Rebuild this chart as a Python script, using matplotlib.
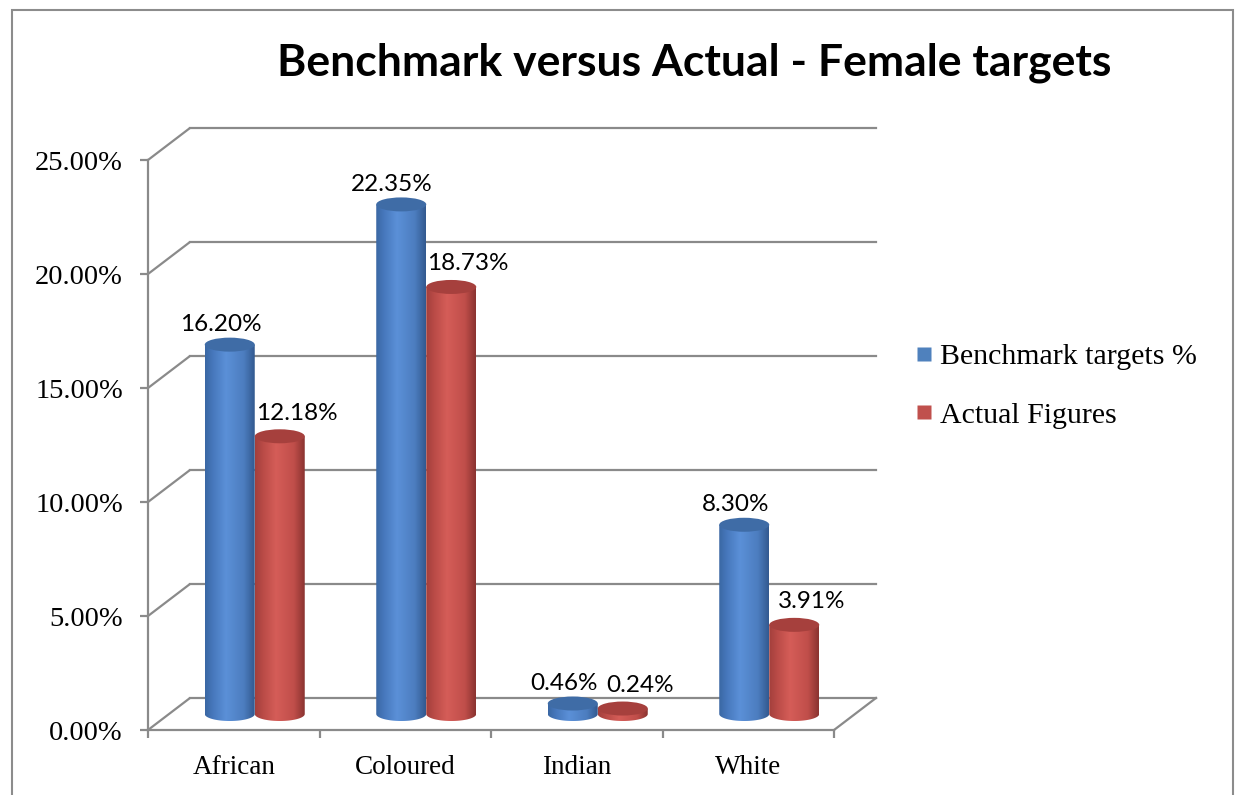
import numpy as np
import matplotlib
matplotlib.use("Agg")
import matplotlib.pyplot as plt
from matplotlib.patches import Ellipse, Rectangle, PathPatch
from matplotlib.path import Path
from matplotlib.colors import LinearSegmentedColormap
from matplotlib.lines import Line2D

# ---- data ----
categories = ["African", "Coloured", "Indian", "White"]
benchmark = [16.20, 22.35, 0.46, 8.30]
actual = [12.18, 18.73, 0.24, 3.91]
series_names = ["Benchmark targets %", "Actual Figures"]
y_ticks = [0, 5, 10, 15, 20, 25]
y_tick_labels = ["0.00%", "5.00%", "10.00%", "15.00%", "20.00%", "25.00%"]

# ---- figure / pseudo-3D geometry ----
W, H = 1235, 795
fig = plt.figure(figsize=(W / 100, H / 100), dpi=100)

cat_px = 171.5          # width of one category slot in pixels
pct_px = 22.8           # pixels per percent
depth_dx_px, depth_dy_px = 42, 32
DX = depth_dx_px / cat_px
DY = depth_dy_px / pct_px
YMAX = 25

ax_left, ax_bottom = 148, 730
ax_w = cat_px * len(categories) + depth_dx_px
ax_h = pct_px * YMAX + depth_dy_px
ax = fig.add_axes([ax_left / W, (H - ax_bottom) / H, ax_w / W, ax_h / H])

grid_col = "#8a8a8a"
serif = "Liberation Serif"
sans = "Lato"

# side wall diagonals + back wall gridlines
for v in y_ticks:
    ax.plot([-0.5, -0.5 + DX], [v, v + DY], color=grid_col, lw=1.6,
            solid_capstyle="butt", zorder=1, clip_on=False)
    ax.plot([-0.5 + DX, len(categories) - 0.5 + DX], [v + DY, v + DY],
            color=grid_col, lw=1.6, zorder=1, clip_on=False)
# floor right edge
ax.plot([len(categories) - 0.5, len(categories) - 0.5 + DX], [0, DY],
        color=grid_col, lw=1.6, zorder=1, clip_on=False)

# ---- cylinders ----
bar_w = 50 / cat_px
ell_h = 14 / pct_px
base = DY / 2

cmaps = [
    LinearSegmentedColormap.from_list(
        "blue_cyl", [(0, "#3a67a3"), (0.15, "#4677bb"), (0.42, "#5b90d8"),
                     (0.78, "#4c7dbf"), (1, "#32598f")]),
    LinearSegmentedColormap.from_list(
        "red_cyl", [(0, "#a23f3c"), (0.15, "#b84a46"), (0.42, "#d55d58"),
                    (0.78, "#c04e4a"), (1, "#8a3330")]),
]
top_cols = ["#3f6ca6", "#a6403d"]
grad = np.linspace(0, 1, 256).reshape(1, -1)


def cylinder(xc, value, k):
    x0, x1 = xc - bar_w / 2, xc + bar_w / 2
    top = base + value
    t = np.linspace(np.pi, 2 * np.pi, 60)
    arc = np.column_stack([xc + bar_w / 2 * np.cos(t), base + ell_h / 2 * np.sin(t)])
    verts = np.vstack([[x0, top], arc, [x1, top], [x0, top]])
    codes = [Path.MOVETO] + [Path.LINETO] * (len(verts) - 2) + [Path.CLOSEPOLY]
    body = PathPatch(Path(verts, codes), facecolor="none", edgecolor="none",
                     transform=ax.transData)
    ax.add_patch(body)
    im = ax.imshow(grad, cmap=cmaps[k], extent=[x0, x1, base - ell_h / 2, top],
                   aspect="auto", zorder=3, interpolation="bilinear")
    im.set_clip_path(body)
    ax.add_patch(Ellipse((xc, top), bar_w, ell_h, facecolor=top_cols[k],
                         edgecolor="none", zorder=3.5))


label_offsets = [(-9, 20), (17, 23)]
for i in range(len(categories)):
    for k, vals in enumerate([benchmark, actual]):
        xc = i + (k - 0.5) * bar_w + DX / 2
        cylinder(xc, vals[i], k)
        ax.annotate(f"{vals[i]:.2f}%", xy=(xc, base + vals[i]),
                    xytext=label_offsets[k], textcoords="offset pixels",
                    ha="center", va="center", fontsize=17.5, family=sans,
                    color="black", zorder=5, annotation_clip=False)

ax.set_xlim(-0.5, len(categories) - 0.5 + DX)
ax.set_ylim(0, YMAX + DY)

# ---- axes ----
for s in ["top", "right"]:
    ax.spines[s].set_visible(False)
for s in ["left", "bottom"]:
    ax.spines[s].set_color(grid_col)
    ax.spines[s].set_linewidth(1.6)
ax.spines["left"].set_bounds(0, YMAX)
ax.spines["bottom"].set_bounds(-0.5, len(categories) - 0.5)

ax.set_yticks(y_ticks)
ax.set_yticklabels(y_tick_labels, family=serif, fontsize=20.5)
ax.tick_params(axis="y", direction="out", length=6, width=1.6, color=grid_col, pad=12)

ax.set_xticks(range(len(categories)))
ax.set_xticklabels(categories, family=serif, fontsize=19.5)
ax.set_xticks(np.arange(-0.5, len(categories), 1.0), minor=True)
ax.tick_params(axis="x", which="major", length=0, pad=18)
ax.tick_params(axis="x", which="minor", direction="out", length=6, width=1.6, color=grid_col)

# ---- title ----
fig.text(694 / W, 1 - 63 / H, "Benchmark versus Actual - Female targets",
         ha="center", va="center", fontsize=32, fontweight="bold", family=sans)

# ---- legend ----
handles = [Line2D([], [], marker="s", linestyle="none", markersize=10,
                  markerfacecolor=c, markeredgecolor="none")
           for c in ["#4f81bd", "#c0504d"]]
fig.legend(handles, series_names, loc="center left",
           bbox_to_anchor=(900 / W, 1 - 386 / H), frameon=False,
           prop={"family": serif, "size": 21.5}, handlelength=0.8,
           handletextpad=0.15, labelspacing=1.05, borderaxespad=0)

# ---- outer frame ----
fig.add_artist(Rectangle((12 / W, -0.05), (1233 - 12) / W, 1.05 - 9.5 / H,
                         transform=fig.transFigure, fill=False,
                         edgecolor="#8c8c8c", lw=1.5))

fig.savefig("out.png", dpi=100)
